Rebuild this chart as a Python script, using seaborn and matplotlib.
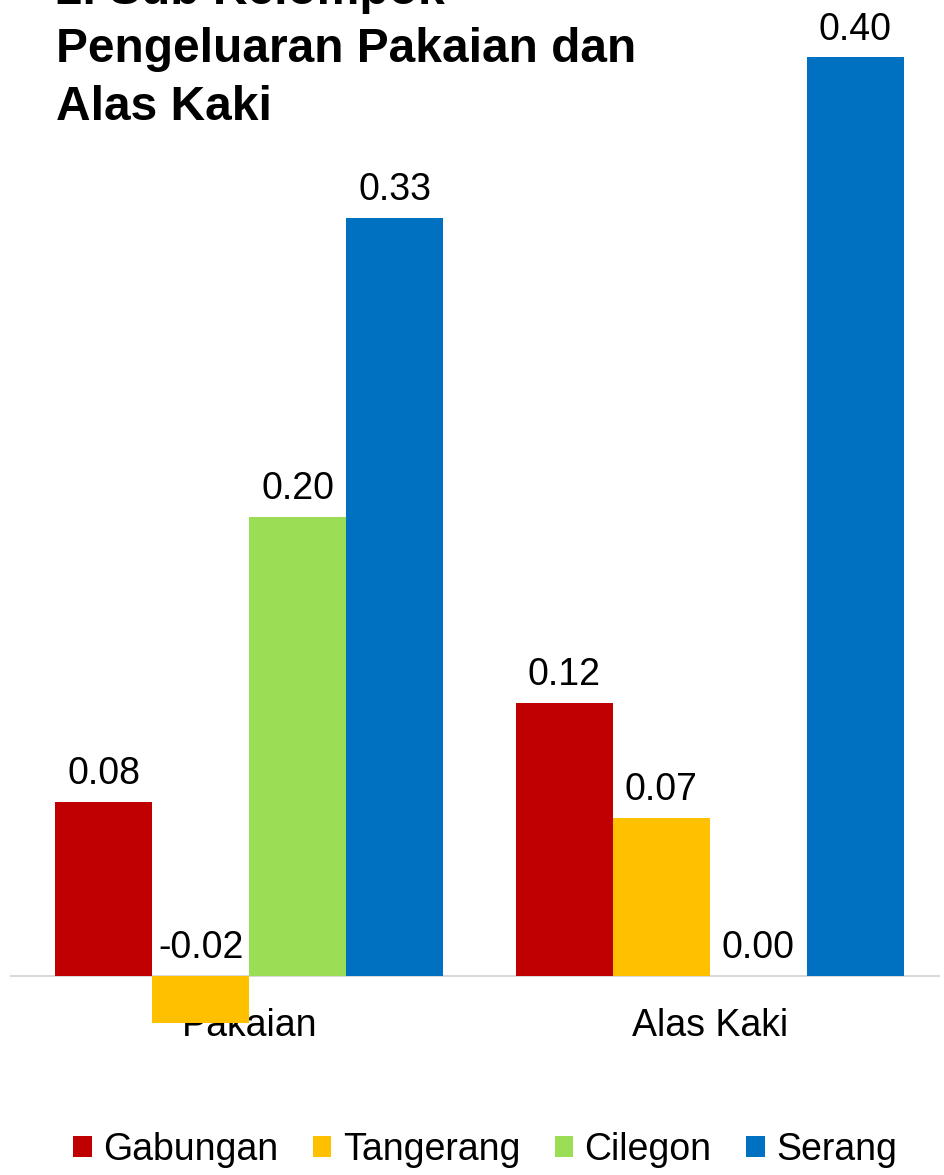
import pandas as pd
import seaborn as sns
import matplotlib.pyplot as plt

# Data
categories = ["Pakaian", "Alas Kaki"]
regions = ["Gabungan", "Tangerang", "Cilegon", "Serang"]
gabungan = [0.076, 0.119]
tangerang = [-0.0205, 0.069]
cilegon = [0.20, 0.00]
serang = [0.33, 0.40]
colors = ["#C00000", "#FFC000", "#9BDE55", "#0070C0"]
title = "2. Sub Kelompok\nPengeluaran Pakaian dan\nAlas Kaki"

rows = []
for region, values in zip(regions, [gabungan, tangerang, cilegon, serang]):
    for cat, val in zip(categories, values):
        rows.append({"kategori": cat, "wilayah": region, "nilai": val})
df = pd.DataFrame(rows)

sns.set_style("white")
plt.rcParams["font.family"] = ["Liberation Sans", "DejaVu Sans"]
plt.rcParams["text.color"] = "black"
plt.rcParams["xtick.color"] = "black"

fig = plt.figure(figsize=(9.45, 11.75), dpi=100)
ax = fig.add_axes([10 / 945, 130 / 1175, 930 / 945, 1045 / 1175])

sns.barplot(data=df, x="kategori", y="nilai", hue="wilayah", order=categories,
            hue_order=regions, palette=colors, width=0.843, gap=0,
            saturation=1, linewidth=0, ax=ax, legend=True)

ax.set_xlim(-0.52, 1.5)
ax.set_ylim(-0.03, 0.425)
ax.axhline(0, color="#D9D9D9", lw=1.5, zorder=0)

for side in ["top", "right", "left", "bottom"]:
    ax.spines[side].set_visible(False)
ax.set_yticks([])
ax.set_xlabel("")
ax.set_ylabel("")
ax.tick_params(axis="x", length=0, labelsize=27, pad=-27)
for lbl in ax.get_xticklabels():
    lbl.set_verticalalignment("top")

# data labels above each bar (or above zero for negative bars)
for container in ax.containers:
    for bar in container:
        h = bar.get_height()
        ax.annotate(f"{h:.2f}", (bar.get_x() + bar.get_width() / 2, max(h, 0)),
                    xytext=(0, 7), textcoords="offset points",
                    ha="center", va="bottom", fontsize=27)

handles, labels = ax.get_legend_handles_labels()
ax.legend(handles, labels, loc="center", bbox_to_anchor=(485 / 945, 25 / 1175),
          bbox_transform=fig.transFigure, ncol=4, frameon=False, fontsize=27,
          handlelength=0.5, handleheight=0.5, handletextpad=0.3,
          columnspacing=0.92)

fig.text(56 / 945, 1.026, title, fontsize=34.5, fontweight="bold",
         ha="left", va="top", linespacing=1.36)

fig.savefig("out.png", dpi=100)
